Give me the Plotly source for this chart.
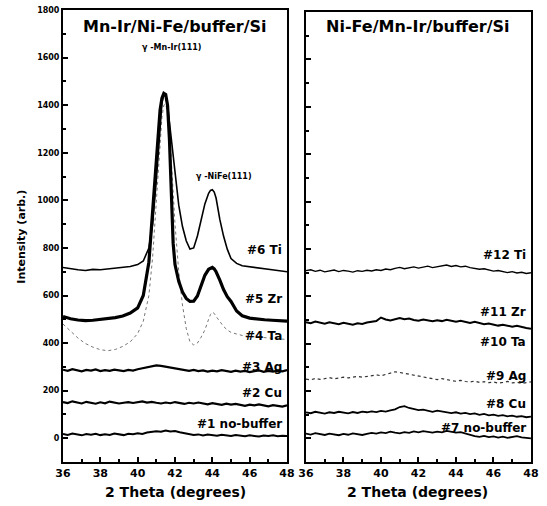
import plotly.graph_objects as go

# ---------------- data ----------------
x_flat = [36.0, 36.25, 36.5, 36.75, 37.0, 37.25, 37.5, 37.75, 38.0, 38.25, 38.5, 38.75,
          39.0, 39.25, 39.5, 39.75, 40.0, 40.25, 40.5, 40.75, 41.0, 41.25, 41.5, 41.75,
          42.0, 42.25, 42.5, 42.75, 43.0, 43.25, 43.5, 43.75, 44.0, 44.25, 44.5, 44.75,
          45.0, 45.25, 45.5, 45.75, 46.0, 46.25, 46.5, 46.75, 47.0, 47.25, 47.5, 47.75, 48.0]

x_peak = [36.0, 36.4, 36.8, 37.2, 37.6, 38.0, 38.4, 38.8, 39.2, 39.6,
          40.0, 40.3, 40.6, 40.8, 41.0, 41.1, 41.2, 41.3, 41.4, 41.5,
          41.6, 41.7, 41.8, 41.9, 42.0, 42.2, 42.4, 42.6, 42.8, 43.0,
          43.2, 43.4, 43.6, 43.8, 43.9, 44.0, 44.1, 44.2, 44.4, 44.6,
          44.8, 45.0, 45.3, 45.6, 46.0, 46.4, 46.8, 47.2, 47.6, 48.0]

# left panel: Mn-Ir/Ni-Fe/buffer/Si
L1_nobuffer = [18, 14, 20, 16, 12, 18, 15, 19, 13, 17, 14, 20, 16, 13, 19, 17, 21, 18, 24, 26,
               29, 27, 32, 28, 30, 25, 22, 18, 14, 16, 11, 15, 13, 10, 14, 12, 9, 13, 11, 8,
               12, 10, 7, 11, 9, 12, 8, 10, 9]
L2_Cu = [152, 148, 155, 150, 146, 153, 149, 145, 151, 147, 154, 150, 146, 149, 152, 148, 151, 155, 150, 153,
         149, 146, 150, 147, 152, 148, 144, 149, 146, 150, 145, 142, 147, 143, 140, 145, 141, 144, 139, 136,
         141, 138, 142, 137, 134, 139, 136, 133, 138]
L3_Ag = [288, 283, 290, 285, 281, 287, 284, 289, 282, 286, 283, 288, 285, 282, 287, 284, 290, 294, 298, 303,
         306, 304, 301, 297, 293, 289, 286, 283, 287, 282, 285, 280, 284, 281, 286, 282, 279, 284, 280, 283,
         278, 282, 285, 279, 283, 280, 284, 281, 286]
L4_Ta = [480, 452, 421, 398, 383, 372, 368, 373, 386, 405, 440, 492, 600, 760, 1000, 1130, 1260, 1350, 1400, 1405,
         1370, 1290, 1170, 1040, 900, 700, 560, 462, 405, 392, 400, 425, 455, 500, 520, 530, 525, 512, 490, 470,
         455, 445, 438, 432, 428, 425, 423, 420, 418, 415]
L5_Zr = [512, 502, 497, 494, 496, 499, 503, 507, 514, 526, 548, 600, 740, 950, 1170, 1290, 1380, 1430, 1450, 1445,
         1400, 1260, 1010, 820, 730, 660, 615, 588, 575, 576, 598, 640, 685, 710, 716, 718, 712, 700, 665, 625,
         595, 575, 535, 515, 505, 500, 498, 496, 494, 492]
L6_Ti = [718, 712, 708, 705, 710, 708, 712, 715, 718, 722, 730, 745, 800, 900, 1086, 1200, 1320, 1410, 1445, 1440,
         1400, 1330, 1240, 1170, 1110, 980, 890, 830, 795, 800, 850, 925, 985, 1030, 1042, 1045, 1035, 1010, 920, 850,
         795, 755, 735, 725, 720, 716, 712, 708, 704, 700]

# right panel: Ni-Fe/Mn-Ir/buffer/Si
R7_nobuffer = [20, 16, 22, 18, 14, 20, 17, 13, 19, 15, 21, 17, 14, 19, 23, 20, 25, 22, 28, 24,
               21, 26, 23, 29, 25, 30, 27, 24, 28, 25, 31, 27, 24, 26, 20, 14, 9, 6, 10, 5,
               8, 3, 7, 2, 6, 9, 4, 1, 0]
R8_Cu = [110, 106, 112, 108, 104, 110, 107, 112, 108, 105, 111, 107, 113, 110, 114, 111, 116, 113, 118, 122,
         132, 136, 128, 124, 119, 121, 116, 112, 117, 113, 109, 106, 110, 104, 107, 102, 105, 99, 103, 97,
         100, 95, 98, 93, 96, 91, 94, 89, 92]
R9_Ag = [250, 247, 253, 249, 252, 256, 251, 254, 258, 255, 259, 262, 258, 261, 265, 268, 264, 270, 276, 281,
         278, 274, 270, 266, 262, 258, 255, 251, 248, 252, 247, 244, 241, 245, 240, 238, 242, 236, 239, 235,
         238, 233, 236, 240, 234, 237, 232, 235, 238]
R11_Zr = [490, 486, 493, 488, 484, 490, 486, 482, 488, 484, 480, 486, 483, 489, 492, 495, 510, 502, 498, 504,
          508, 503, 506, 500, 497, 502, 498, 494, 499, 495, 501, 497, 492, 496, 490, 487, 492, 486, 482, 485,
          479, 476, 480, 474, 471, 475, 469, 466, 463]
R12_Ti = [708, 712, 705, 710, 703, 707, 711, 704, 709, 706, 702, 708, 705, 710, 707, 712, 709, 715, 712, 718,
          722, 716, 720, 724, 719, 723, 727, 721, 725, 729, 732, 726, 730, 724, 727, 721, 718, 714, 716, 710,
          706, 709, 703, 700, 704, 698, 701, 696, 699]

left_labels = ["#6 Ti", "#5 Zr", "#4 Ta", "#3 Ag", "#2 Cu", "#1 no-buffer"]
left_label_y = [792, 585, 430, 300, 190, 60]
right_labels = ["#12 Ti", "#11 Zr", "#10 Ta", "#9 Ag", "#8 Cu", "#7 no-buffer"]
right_label_y = [775, 535, 408, 265, 147, 42]

x_ticks = [36, 38, 40, 42, 44, 46, 48]
y_ticks = [0, 200, 400, 600, 800, 1000, 1200, 1400, 1600, 1800]

# ---------------- figure ----------------
W, H = 547, 506
FONT = "DejaVu Sans"
fig = go.Figure()

def add(x, y, xa, ya, width=1.8, dash="solid", color="black"):
    fig.add_trace(go.Scatter(x=x, y=y, mode="lines", xaxis=xa, yaxis=ya,
                             line=dict(color=color, width=width, dash=dash),
                             showlegend=False, hoverinfo="skip"))

add(x_flat, L1_nobuffer, "x", "y", 2.0)
add(x_flat, L2_Cu, "x", "y", 2.2)
add(x_flat, L3_Ag, "x", "y", 2.2)
add(x_peak, L4_Ta, "x", "y", 1.0, "dot", "#777")
add(x_peak, L6_Ti, "x", "y", 1.6)
add(x_peak, L5_Zr, "x", "y", 3.2)

add(x_flat, R7_nobuffer, "x2", "y2", 1.8)
add(x_flat, R8_Cu, "x2", "y2", 1.8)
add(x_flat, R9_Ag, "x2", "y2", 1.2, "dot", "#333")
add(x_flat, R11_Zr, "x2", "y2", 2.0)
add(x_flat, R12_Ti, "x2", "y2", 1.4)

axis_common = dict(showline=True, linecolor="black", linewidth=2, mirror=True,
                   ticks="inside", tickcolor="black", ticklen=5, tickwidth=1.5,
                   showgrid=False, zeroline=False, automargin=False,
                   ticklabeloverflow="allow")

xa = dict(axis_common, range=[36, 48], tickvals=x_ticks,
          tickfont=dict(family=FONT, size=11, color="black", weight="bold"),
          minor=dict(ticks="inside", dtick=1, ticklen=3, tickcolor="black"))
ya = dict(axis_common, range=[-100, 1800], tickvals=y_ticks,
          minor=dict(ticks="inside", dtick=100, ticklen=3, tickcolor="black"))

fig.update_layout(
    width=W, height=H,
    margin=dict(l=0, r=0, t=0, b=0),
    paper_bgcolor="white", plot_bgcolor="white",
    xaxis=dict(xa, domain=[0.1152, 0.5247], anchor="y"),
    xaxis2=dict(xa, domain=[0.5594, 0.9707], anchor="y2"),
    yaxis=dict(ya, domain=[0.087, 0.980], anchor="x",
               tickfont=dict(family=FONT, size=8, color="black", weight="bold")),
    yaxis2=dict(ya, domain=[0.087, 0.976], anchor="x2", showticklabels=False),
)

ann = []
def text(x, y, s, size, xref="x", yref="y", xanchor="center", **kw):
    ann.append(dict(x=x, y=y, text=s, xref=xref, yref=yref, showarrow=False,
                    xanchor=xanchor, yanchor="middle",
                    font=dict(family=FONT, size=size, color="black", weight="bold"), **kw))

text(0.320, 0.947, "Mn-Ir/Ni-Fe/buffer/Si", 16, "paper", "paper")
text(0.764, 0.947, "Ni-Fe/Mn-Ir/buffer/Si", 16, "paper", "paper")
text(41.8, 1642, "γ -Mn-Ir(111)", 8)
text(44.6, 1099, "γ -NiFe(111)", 8)
for s, yv in zip(left_labels, left_label_y):
    text(47.85, yv, s, 12, xanchor="right")
for s, yv in zip(right_labels, right_label_y):
    text(47.85, yv, s, 12, "x2", "y2", xanchor="right")
text(0.320, 0.028, "2 Theta (degrees)", 14, "paper", "paper")
text(0.764, 0.028, "2 Theta (degrees)", 14, "paper", "paper")
text(0.040, 0.532, "Intensity (arb.)", 11, "paper", "paper", textangle=-90)

fig.update_layout(annotations=ann)
# remove the page's default body margin so the 547x506 figure fills the window
fig.write_html("out.html", config={"displayModeBar": False},
               post_script="document.body.style.margin='0';")
